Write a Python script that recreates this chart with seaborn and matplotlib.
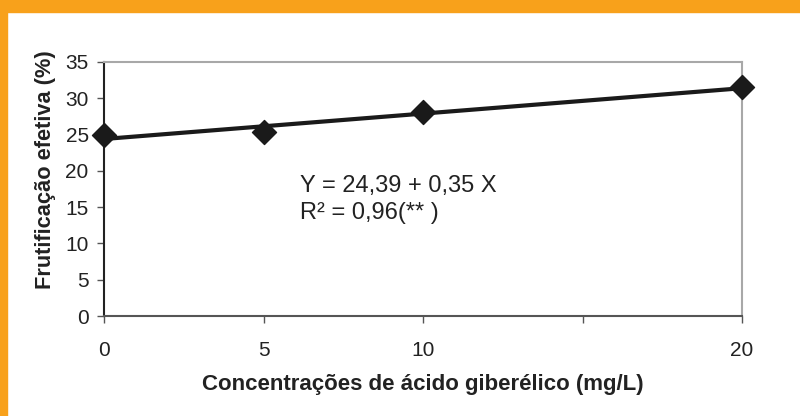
import matplotlib
matplotlib.use("Agg")
import matplotlib.pyplot as plt
import seaborn as sns
import pandas as pd
from matplotlib.patches import Rectangle

sns.set_theme(style="white")
plt.rcParams['font.family'] = ['Liberation Sans', 'DejaVu Sans']

# Data
concentrations = [0, 5, 10, 20]
fruitset = [25.0, 25.3, 28.1, 31.5]
intercept = 24.39
slope = 0.35
x_ticks = [0, 5, 10, 15, 20]
x_tick_labels = ["0", "5", "10", "", "20"]
y_ticks = [0, 5, 10, 15, 20, 25, 30, 35]

df = pd.DataFrame({"x": concentrations, "y": fruitset})
fit_x = [0, 20]
fit_df = pd.DataFrame({"x": fit_x, "y": [intercept + slope * v for v in fit_x]})

fig = plt.figure(figsize=(8, 4.16), dpi=100)
ax = fig.add_axes([104/800, 1 - 316/416, (742-104)/800, (316-62)/416])

sns.lineplot(data=fit_df, x="x", y="y", ax=ax, color="#1a1a1a", linewidth=3, zorder=2)
sns.scatterplot(data=df, x="x", y="y", ax=ax, marker="D", s=150, color="#1a1a1a",
                edgecolor="#1a1a1a", zorder=3, clip_on=False)
for c in ax.collections:
    c.set_clip_on(False)

ax.set_xlim(0, 20)
ax.set_ylim(0, 35)
ax.set_xticks(x_ticks)
ax.set_xticklabels(x_tick_labels)
ax.set_yticks(y_ticks)
ax.tick_params(axis="both", direction="out", length=5, width=1, colors="#555555",
               labelsize=15, labelcolor="#222222", bottom=True, left=True)
ax.tick_params(axis="x", pad=13)
ax.tick_params(axis="y", pad=6)

for side in ["top", "right"]:
    ax.spines[side].set_color("#a8a8a8")
    ax.spines[side].set_linewidth(1.5)
ax.spines["left"].set_color("#222222")
ax.spines["left"].set_linewidth(1.5)
ax.spines["bottom"].set_color("#555555")
ax.spines["bottom"].set_linewidth(1.5)
for s in ax.spines.values():
    s.set_zorder(1)

ax.set_xlabel("Concentrações de ácido giberélico (mg/L)", fontsize=16, fontweight="bold",
              color="#222222", labelpad=10)
ax.set_ylabel("Frutificação efetiva (%)", fontsize=15.7, fontweight="bold",
              color="#222222")
ax.yaxis.set_label_coords(-0.075, 0.575)

fig.text(300/800, 1 - 186/416, "Y = 24,39 + 0,35 X", fontsize=17, color="#222222",
         va="center", ha="left")
fig.text(300/800, 1 - 213/416, "R² = 0,96(** )", fontsize=17, color="#222222",
         va="center", ha="left")

# orange border
orange = "#F8A11B"
fig.patches.append(Rectangle((0, 1 - 12/416), 1, 12/416, transform=fig.transFigure,
                             color=orange, zorder=0))
fig.patches.append(Rectangle((0, 0), 7/800, 1, transform=fig.transFigure,
                             color=orange, zorder=0))

fig.savefig("out.png", dpi=100)
